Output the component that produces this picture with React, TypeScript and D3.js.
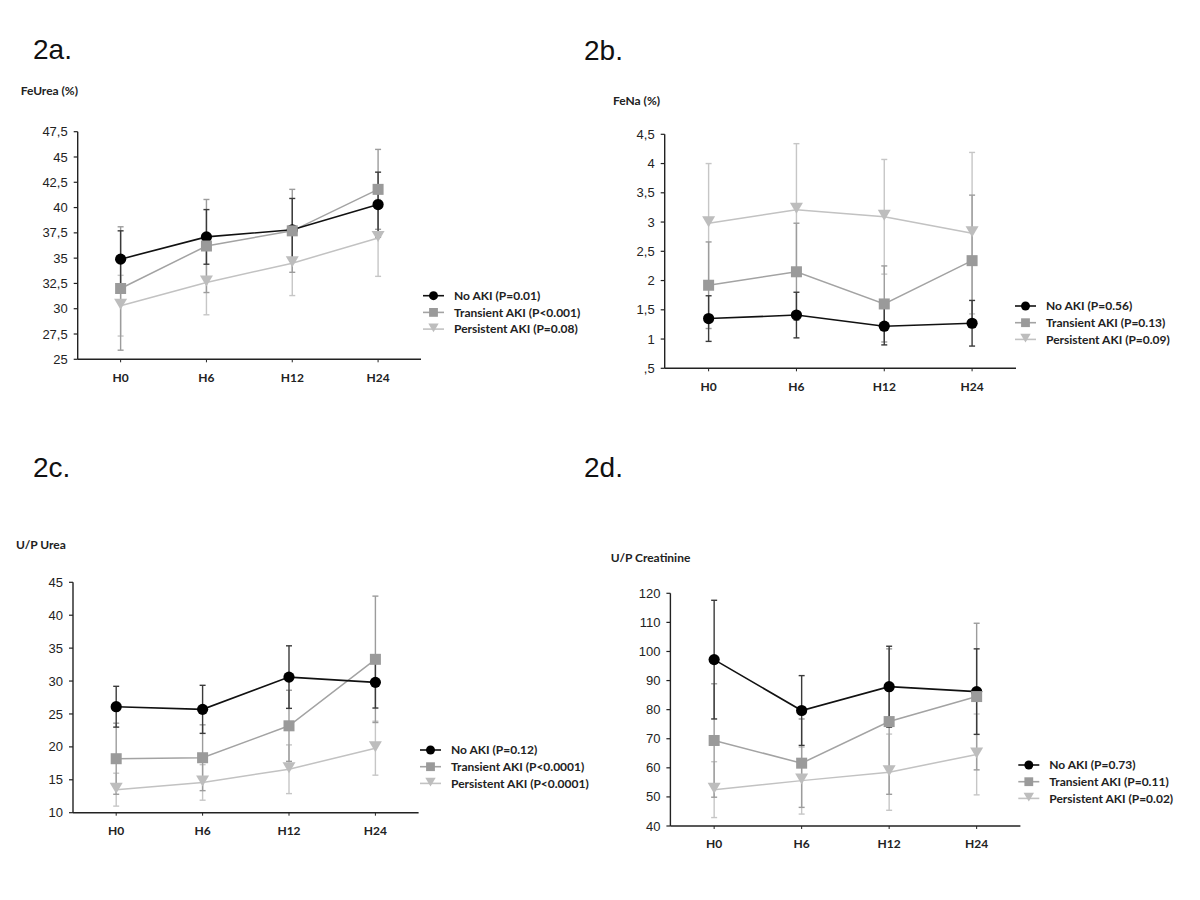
import React from "react";
import * as d3 from "d3";

// ---------- DATA ----------
const CATEGORIES = ["H0", "H6", "H12", "H24"];
const SERIES_NAMES = ["No AKI", "Transient AKI", "Persistent AKI"];

// 2a FeUrea (%)
const FEUREA_TICKS = [25, 27.5, 30, 32.5, 35, 37.5, 40, 42.5, 45, 47.5];
const FEUREA_NOAKI_MEAN = [34.9, 37.1, 37.8, 40.3];
const FEUREA_NOAKI_SD = [2.8, 2.7, 3.1, 3.2];
const FEUREA_TRANS_MEAN = [32.0, 36.2, 37.7, 41.8];
const FEUREA_TRANS_SD = [6.1, 4.6, 4.1, 3.95];
const FEUREA_PERS_MEAN = [30.3, 32.6, 34.5, 37.0];
const FEUREA_PERS_SD = [3.0, 3.2, 3.2, 3.8];
const FEUREA_P = ["P=0.01", "P<0.001", "P=0.08"];

// 2b FeNa (%)
const FENA_TICKS = [0.5, 1, 1.5, 2, 2.5, 3, 3.5, 4, 4.5];
const FENA_NOAKI_MEAN = [1.35, 1.41, 1.22, 1.27];
const FENA_NOAKI_SD = [0.39, 0.39, 0.32, 0.39];
const FENA_TRANS_MEAN = [1.92, 2.15, 1.6, 2.34];
const FENA_TRANS_SD = [0.74, 0.83, 0.65, 1.12];
const FENA_PERS_MEAN = [2.98, 3.21, 3.09, 2.81];
const FENA_PERS_SD = [1.02, 1.13, 0.98, 1.38];
const FENA_P = ["P=0.56", "P=0.13", "P=0.09"];

// 2c U/P Urea
const UPUREA_TICKS = [10, 15, 20, 25, 30, 35, 40, 45];
const UPUREA_NOAKI_MEAN = [26.1, 25.7, 30.6, 29.8];
const UPUREA_NOAKI_SD = [3.1, 3.65, 4.75, 3.9];
const UPUREA_TRANS_MEAN = [18.2, 18.35, 23.2, 33.3];
const UPUREA_TRANS_SD = [5.4, 5.0, 5.4, 9.6];
const UPUREA_PERS_MEAN = [13.5, 14.6, 16.6, 19.8];
const UPUREA_PERS_SD = [2.5, 2.7, 3.7, 4.1];
const UPUREA_P = ["P=0.12", "P<0.0001", "P<0.0001"];

// 2d U/P Creatinine
const UPCREAT_TICKS = [40, 50, 60, 70, 80, 90, 100, 110, 120];
const UPCREAT_NOAKI_MEAN = [97.2, 79.7, 87.9, 86.2];
const UPCREAT_NOAKI_SD = [20.4, 12.0, 13.9, 14.7];
const UPCREAT_TRANS_MEAN = [69.4, 61.6, 75.9, 84.5];
const UPCREAT_TRANS_SD = [19.5, 15.2, 25.0, 25.2];
const UPCREAT_PERS_MEAN = [52.5, 55.6, 58.5, 64.6];
const UPCREAT_PERS_SD = [9.6, 11.5, 13.1, 13.9];
const UPCREAT_P = ["P=0.73", "P=0.11", "P=0.02"];

// ---------- STYLE ----------
const SERIES_STYLE = [
  { shape: "circle", fill: "#000000", line: "#111111", err: "#3a3a3a" },
  { shape: "square", fill: "#9a9a9a", line: "#a3a3a3", err: "#9c9c9c" },
  { shape: "triangle", fill: "#bdbdbd", line: "#c2c2c2", err: "#c6c6c6" },
];

const LABEL_FONT = "Lato, 'Open Sans', sans-serif";
const NUM_FONT = "'Liberation Sans', Arial, sans-serif";

const fmtTick = (v: number) => {
  let s = String(v).replace(".", ",");
  if (s.startsWith("0,")) s = s.slice(1);
  return s;
};

function Marker({ shape, x, y, fill, scale = 1 }: any) {
  if (shape === "circle") return <circle cx={x} cy={y} r={5.6 * scale} fill={fill} />;
  if (shape === "square") {
    const h = 5.5 * scale;
    return <rect x={x - h} y={y - h} width={2 * h} height={2 * h} fill={fill} />;
  }
  const w = 6.5 * scale;
  const t = 7 * scale;
  const b = 4 * scale;
  return <path d={`M${x - w},${y - t}L${x + w},${y - t}L${x},${y + b}Z`} fill={fill} />;
}

type PanelProps = {
  label: string;
  title: string;
  ticks: number[];
  means: number[][];
  sds: number[][];
  pvals: string[];
  layout: any;
};

function Panel({ label, title, ticks, means, sds, pvals, layout }: PanelProps) {
  const { left, right, top, bottom, labelX, labelY, titleX, titleY, legendX, legendY } = layout;
  const x = d3.scalePoint<string>().domain(CATEGORIES).range([left, right]).padding(0.5);
  const y = d3
    .scaleLinear()
    .domain([d3.min(ticks)!, d3.max(ticks)!])
    .range([bottom, top]);
  const line = d3
    .line<number>()
    .x((_, i) => x(CATEGORIES[i])!)
    .y((d) => y(d));
  const order = [2, 1, 0];
  const cap = 3;
  return (
    <g>
      <text x={labelX} y={labelY} fontFamily={NUM_FONT} fontSize={28} fill="#111">
        {label}
      </text>
      <text x={titleX} y={titleY} dy="0.35em" fontFamily={LABEL_FONT} fontWeight={700} fontSize={12} fill="#222">
        {title}
      </text>
      {/* y axis */}
      <line x1={left} x2={left} y1={top} y2={bottom} stroke="#222" strokeWidth={1.4} />
      {ticks.map((t) => (
        <g key={t}>
          <line x1={left - 4} x2={left} y1={y(t)} y2={y(t)} stroke="#222" strokeWidth={1.2} />
          <text
            x={left - 10}
            y={y(t)}
            dy="0.35em"
            textAnchor="end"
            fontFamily={NUM_FONT}
            fontSize={13}
            fill="#222"
          >
            {fmtTick(t)}
          </text>
        </g>
      ))}
      {/* x axis */}
      <line x1={left} x2={right} y1={bottom} y2={bottom} stroke="#222" strokeWidth={1.6} />
      {CATEGORIES.map((c) => (
        <g key={c}>
          <line x1={x(c)} x2={x(c)} y1={bottom} y2={bottom + 3} stroke="#222" strokeWidth={1} />
          <text
            x={x(c)}
            y={bottom + 18}
            dy="0.35em"
            textAnchor="middle"
            fontFamily={LABEL_FONT}
            fontWeight={700}
            fontSize={12}
            fill="#222"
          >
            {c}
          </text>
        </g>
      ))}
      {/* error bars */}
      {order.map((s) => (
        <g key={"e" + s} stroke={SERIES_STYLE[s].err} strokeWidth={1.4}>
          {means[s].map((m, i) => {
            const cx = x(CATEGORIES[i])!;
            const y1 = y(m + sds[s][i]);
            const y2 = y(m - sds[s][i]);
            return (
              <g key={i}>
                <line x1={cx} x2={cx} y1={y1} y2={y2} />
                <line x1={cx - cap} x2={cx + cap} y1={y1} y2={y1} />
                <line x1={cx - cap} x2={cx + cap} y1={y2} y2={y2} />
              </g>
            );
          })}
        </g>
      ))}
      {/* lines */}
      {order.map((s) => (
        <path
          key={"l" + s}
          d={line(means[s])!}
          fill="none"
          stroke={SERIES_STYLE[s].line}
          strokeWidth={s === 0 ? 1.6 : 1.5}
        />
      ))}
      {/* markers */}
      {[0, 1, 2].map((s) => (
        <g key={"m" + s}>
          {means[s].map((m, i) => (
            <Marker key={i} shape={SERIES_STYLE[s].shape} x={x(CATEGORIES[i])} y={y(m)} fill={SERIES_STYLE[s].fill} />
          ))}
        </g>
      ))}
      {/* legend */}
      {SERIES_NAMES.map((n, s) => {
        const ly = legendY + s * 16.7;
        return (
          <g key={"lg" + s}>
            <line x1={legendX} x2={legendX + 21} y1={ly} y2={ly} stroke={SERIES_STYLE[s].line} strokeWidth={1.6} />
            <Marker shape={SERIES_STYLE[s].shape} x={legendX + 10.5} y={ly} fill={SERIES_STYLE[s].fill} scale={0.8} />
            <text
              x={legendX + 31}
              y={ly}
              dy="0.35em"
              fontFamily={LABEL_FONT}
              fontWeight={700}
              fontSize={12}
              fill="#222"
            >
              {`${n} (${pvals[s]})`}
            </text>
          </g>
        );
      })}
    </g>
  );
}

const LAYOUTS = {
  a: { left: 77.7, right: 421, top: 131.7, bottom: 359.3, labelX: 33, labelY: 59, titleX: 20.7, titleY: 90.7, legendX: 423, legendY: 295.7 },
  b: { left: 664.7, right: 1016, top: 134.3, bottom: 368.3, labelX: 584, labelY: 60, titleX: 613, titleY: 101, legendX: 1015, legendY: 306 },
  c: { left: 73, right: 418.6, top: 582.3, bottom: 812.7, labelX: 33, labelY: 477, titleX: 16, titleY: 545, legendX: 420, legendY: 750 },
  d: { left: 670.4, right: 1020.4, top: 593.3, bottom: 826, labelX: 584, labelY: 477, titleX: 610.7, titleY: 557.5, legendX: 1018.3, legendY: 765 },
};

export default function App() {
  return (
    <svg
      width={1200}
      height={900}
      viewBox="0 0 1200 900"
      style={{ position: "absolute", left: 0, top: 0, background: "#fff" }}
    >
      <rect x={0} y={0} width={1200} height={900} fill="#fff" />
      <Panel
        label="2a."
        title="FeUrea (%)"
        ticks={FEUREA_TICKS}
        means={[FEUREA_NOAKI_MEAN, FEUREA_TRANS_MEAN, FEUREA_PERS_MEAN]}
        sds={[FEUREA_NOAKI_SD, FEUREA_TRANS_SD, FEUREA_PERS_SD]}
        pvals={FEUREA_P}
        layout={LAYOUTS.a}
      />
      <Panel
        label="2b."
        title="FeNa (%)"
        ticks={FENA_TICKS}
        means={[FENA_NOAKI_MEAN, FENA_TRANS_MEAN, FENA_PERS_MEAN]}
        sds={[FENA_NOAKI_SD, FENA_TRANS_SD, FENA_PERS_SD]}
        pvals={FENA_P}
        layout={LAYOUTS.b}
      />
      <Panel
        label="2c."
        title="U/P Urea"
        ticks={UPUREA_TICKS}
        means={[UPUREA_NOAKI_MEAN, UPUREA_TRANS_MEAN, UPUREA_PERS_MEAN]}
        sds={[UPUREA_NOAKI_SD, UPUREA_TRANS_SD, UPUREA_PERS_SD]}
        pvals={UPUREA_P}
        layout={LAYOUTS.c}
      />
      <Panel
        label="2d."
        title="U/P Creatinine"
        ticks={UPCREAT_TICKS}
        means={[UPCREAT_NOAKI_MEAN, UPCREAT_TRANS_MEAN, UPCREAT_PERS_MEAN]}
        sds={[UPCREAT_NOAKI_SD, UPCREAT_TRANS_SD, UPCREAT_PERS_SD]}
        pvals={UPCREAT_P}
        layout={LAYOUTS.d}
      />
    </svg>
  );
}
